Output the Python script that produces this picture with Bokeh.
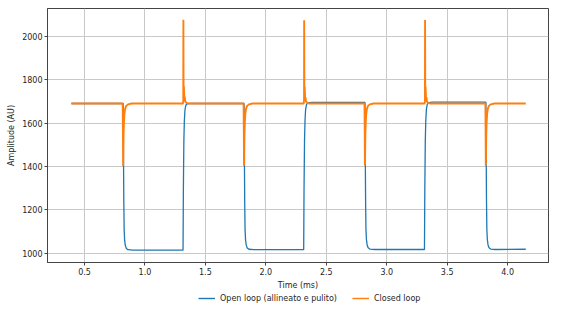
from bokeh.plotting import figure
from bokeh.layouts import column
from bokeh.models import Range1d, FixedTicker, Legend, LegendItem
from bokeh.embed import file_html
from bokeh.resources import INLINE

# ---- data ----
open_t = [0.392, 0.820, 0.822, 0.825, 0.828, 0.832, 0.838, 0.846, 0.860, 0.900,
          1.315, 1.318, 1.322, 1.326, 1.331, 1.338, 1.350, 1.380,
          1.820, 1.822, 1.825, 1.828, 1.832, 1.838, 1.846, 1.860, 1.900,
          2.313, 2.316, 2.320, 2.324, 2.329, 2.336, 2.348, 2.380,
          2.820, 2.822, 2.825, 2.828, 2.832, 2.838, 2.846, 2.860, 2.900,
          3.312, 3.315, 3.319, 3.323, 3.328, 3.335, 3.347, 3.380,
          3.820, 3.822, 3.825, 3.828, 3.832, 3.838, 3.846, 3.860, 3.900, 4.150]
open_v = [1690, 1690, 1500, 1250, 1110, 1060, 1035, 1022, 1016, 1014,
          1014, 1300, 1520, 1610, 1660, 1682, 1689, 1690,
          1690, 1500, 1250, 1110, 1062, 1037, 1024, 1018, 1016,
          1016, 1300, 1520, 1612, 1662, 1685, 1693, 1695,
          1695, 1500, 1250, 1110, 1063, 1038, 1025, 1019, 1017,
          1017, 1300, 1520, 1612, 1663, 1686, 1694, 1696,
          1696, 1500, 1250, 1110, 1063, 1038, 1025, 1019, 1017, 1018]

closed_t = [0.392, 0.816, 0.818, 0.8195, 0.821, 0.823, 0.826, 0.830, 0.836, 0.845, 0.860, 0.890,
            1.315, 1.317, 1.318, 1.3195, 1.321, 1.3225, 1.324, 1.326, 1.329, 1.333, 1.343, 1.360,
            1.816, 1.818, 1.8195, 1.821, 1.823, 1.826, 1.830, 1.836, 1.845, 1.860, 1.890,
            2.314, 2.316, 2.317, 2.3185, 2.320, 2.3215, 2.323, 2.325, 2.328, 2.332, 2.342, 2.360,
            2.816, 2.818, 2.8195, 2.821, 2.823, 2.826, 2.830, 2.836, 2.845, 2.860, 2.890,
            3.314, 3.316, 3.317, 3.3185, 3.320, 3.3215, 3.323, 3.325, 3.328, 3.332, 3.342, 3.360,
            3.816, 3.818, 3.8195, 3.821, 3.823, 3.826, 3.830, 3.836, 3.845, 3.860, 3.890, 4.150]
closed_v = [1690, 1690, 1560, 1402, 1450, 1540, 1600, 1640, 1665, 1679, 1686, 1690,
            1690, 1705, 2076, 1780, 1725, 1768, 1742, 1712, 1722, 1700, 1693, 1690,
            1690, 1560, 1403, 1450, 1540, 1600, 1640, 1665, 1679, 1686, 1690,
            1690, 1705, 2074, 1780, 1725, 1766, 1740, 1712, 1720, 1700, 1693, 1690,
            1690, 1560, 1404, 1450, 1540, 1600, 1640, 1665, 1679, 1686, 1690,
            1690, 1705, 2075, 1780, 1725, 1766, 1740, 1712, 1720, 1700, 1693, 1690,
            1690, 1560, 1403, 1450, 1540, 1600, 1640, 1665, 1679, 1686, 1690, 1690]

x_ticks = [0.5, 1.0, 1.5, 2.0, 2.5, 3.0, 3.5, 4.0]
x_tick_labels = ["0.5", "1.0", "1.5", "2.0", "2.5", "3.0", "3.5", "4.0"]
y_ticks = [1000, 1200, 1400, 1600, 1800, 2000]
y_tick_labels = ["1000", "1200", "1400", "1600", "1800", "2000"]
series_names = ["Open loop (allineato e pulito)", "Closed loop"]
series_colors = ["#1f77b4", "#ff7f0e"]

FONT = "DejaVu Sans"
TXT = "#262626"
SPINE = "#444444"

p = figure(width=550, height=292,
           x_range=Range1d(0.194, 4.338), y_range=Range1d(957, 2128),
           output_backend="svg", toolbar_location=None,
           min_border_left=47, min_border_right=2, min_border_top=8, min_border_bottom=0)
p.background_fill_color = "white"
p.border_fill_color = "white"
p.outline_line_color = SPINE
p.outline_line_width = 1

p.line(open_t, open_v, line_color=series_colors[0], line_width=1.3)
p.line(closed_t, closed_v, line_color=series_colors[1], line_width=1.9)

p.xaxis.ticker = FixedTicker(ticks=x_ticks)
p.xaxis.major_label_overrides = {t: s for t, s in zip(x_ticks, x_tick_labels)}
p.yaxis.ticker = FixedTicker(ticks=y_ticks)
p.yaxis.major_label_overrides = {t: s for t, s in zip(y_ticks, y_tick_labels)}

p.xaxis.axis_label = "Time (ms)"
p.yaxis.axis_label = "Amplitude (AU)"

for ax in (p.xaxis[0], p.yaxis[0]):
    ax.axis_line_color = SPINE
    ax.major_tick_line_color = SPINE
    ax.major_tick_out = 3
    ax.major_tick_in = 0
    ax.minor_tick_line_color = None
    ax.major_label_text_font = FONT
    ax.major_label_text_font_size = "8px"
    ax.major_label_text_color = TXT
    ax.axis_label_text_font = FONT
    ax.axis_label_text_font_size = "8px"
    ax.axis_label_text_font_style = "normal"
    ax.axis_label_text_color = TXT
    ax.major_label_standoff = 2
    ax.axis_label_standoff = 3

p.xgrid.grid_line_color = "#c9c9c9"
p.ygrid.grid_line_color = "#c9c9c9"
p.xgrid.grid_line_width = 1
p.ygrid.grid_line_width = 1
p.xgrid.ticker = FixedTicker(ticks=x_ticks)
p.ygrid.ticker = FixedTicker(ticks=y_ticks)

# legend strip below the chart (same series, drawn outside this strip's visible range)
lg = figure(width=550, height=12, x_range=Range1d(0, 1), y_range=Range1d(0, 1),
            output_backend="svg", toolbar_location=None,
            x_axis_type=None, y_axis_type=None,
            min_border_left=0, min_border_right=0, min_border_top=0, min_border_bottom=0)
lg.outline_line_color = None
lg.background_fill_color = "white"
lg.border_fill_color = "white"
l_open = lg.line(open_t, open_v, line_color=series_colors[0], line_width=1.4)
l_closed = lg.line(closed_t, closed_v, line_color=series_colors[1], line_width=1.4)

legend = Legend(items=[LegendItem(label=series_names[0], renderers=[l_open]),
                       LegendItem(label=series_names[1], renderers=[l_closed])],
                orientation="horizontal", location=(151, 1))
legend.background_fill_alpha = 0
legend.border_line_alpha = 0
legend.padding = 0
legend.margin = 0
legend.spacing = 15
legend.glyph_width = 17
legend.glyph_height = 10
legend.label_height = 10
legend.label_standoff = 5
legend.label_text_font = FONT
legend.label_text_font_size = "8px"
legend.label_text_color = TXT
lg.add_layout(legend, "center")

layout = column(p, lg, spacing=0)
open("out.html", "w").write(file_html(layout, INLINE))
